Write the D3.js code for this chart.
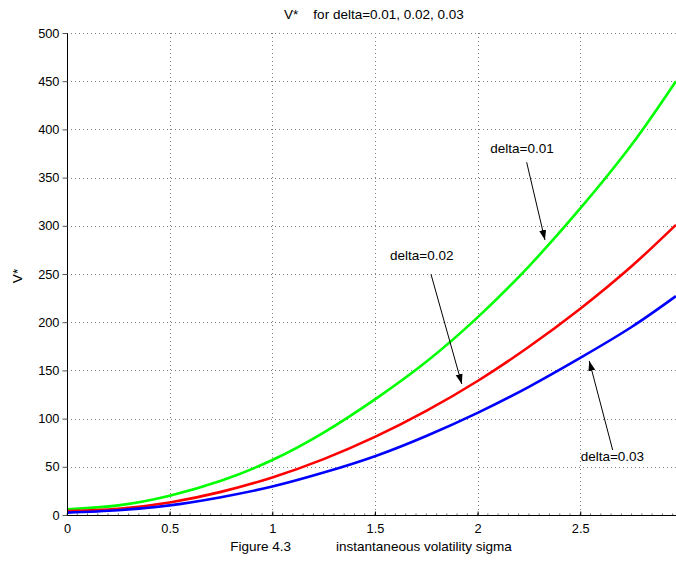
<!DOCTYPE html>
<html>
<head>
<meta charset="utf-8">
<script src="https://cdn.jsdelivr.net/npm/d3@7"></script>
<style>
html,body{margin:0;padding:0;background:#fff;}
svg{display:block;font-family:"Liberation Sans",Arial,Helvetica,sans-serif;}
</style>
</head>
<body>
<svg id="chart" width="676" height="567"></svg>
<script>
// ---- data ----
const sigma   = [0, 0.25, 0.5, 0.75, 1, 1.25, 1.5, 1.75, 2, 2.25, 2.5, 2.75, 2.966];
const v001    = [6, 10, 20, 35.5, 57, 85.5, 120, 159, 205, 258, 318, 384, 450];
const v002    = [4, 6.5, 13, 24, 39, 58, 81, 108, 139, 174.5, 214, 258, 301];
const v003    = [2.5, 5, 10, 18.5, 29.5, 44, 61, 82, 106, 133, 163, 195, 227];
const seriesNames  = ["delta=0.01", "delta=0.02", "delta=0.03"];
const seriesColors = ["#00ff00", "#ff0000", "#0000ff"];
const xTicks = [0, 0.5, 1, 1.5, 2, 2.5];
const yTicks = [0, 50, 100, 150, 200, 250, 300, 350, 400, 450, 500];
// annotations: label anchor (sigma, V) and arrow start/tip in data units
const annLabel = ["delta=0.01", "delta=0.02", "delta=0.03"];
const annText  = [[2.216, 375.5], [1.728, 264.5], [2.502, 56]];
const annFrom  = [[2.239, 365.9], [1.773, 249.7], [2.658, 67.4]];
const annTo    = [[2.328, 285.3], [1.923, 135.9], [2.544, 159.8]];

const svg = d3.select("#chart");
const x = d3.scaleLinear().domain([0, 3]).range([67, 67 + 3 * 205.3]);
const y = d3.scaleLinear().domain([0, 500]).range([515, 33]);
const xMax = 2.966;
const FS = 13.5;

// grid
const grid = svg.append("g").attr("stroke", "#7f7f7f").attr("stroke-width", 1)
  .attr("stroke-dasharray", "1,3");
grid.selectAll(".vg").data(xTicks.filter(d => d > 0)).join("line")
  .attr("x1", d => Math.round(x(d)) + 0.5).attr("x2", d => Math.round(x(d)) + 0.5)
  .attr("y1", y(500)).attr("y2", y(0));
grid.selectAll(".hg").data(yTicks.filter(d => d > 0)).join("line")
  .attr("y1", d => Math.round(y(d)) + 0.5).attr("y2", d => Math.round(y(d)) + 0.5)
  .attr("x1", x(0)).attr("x2", x(xMax));

// curves
const line = d3.line().x((d, i) => x(sigma[i])).y(d => y(d)).curve(d3.curveNatural);
[v001, v002, v003].forEach((vals, k) => {
  svg.append("path").datum(vals).attr("d", line)
    .attr("fill", "none").attr("stroke", seriesColors[k]).attr("stroke-width", 2.6);
});

// axes
const xAxis = d3.axisBottom(x).tickValues(xTicks).tickSize(-4).tickPadding(8)
  .tickFormat(d => d3.format("~g")(d));
const gx = svg.append("g").attr("transform", `translate(0,${Math.round(y(0)) + 0.5})`).call(xAxis);
gx.select(".domain").remove();
gx.append("line").attr("x1", x(0)).attr("x2", 676).attr("stroke", "#000");
// minor ticks
const minor = d3.range(0, 2.97, 0.05);
gx.selectAll(".mn").data(minor).join("line")
  .attr("x1", d => x(d)).attr("x2", d => x(d)).attr("y1", 0).attr("y2", -2)
  .attr("stroke", "#000").attr("stroke-width", 0.6);

const yAxis = d3.axisLeft(y).tickValues(yTicks).tickSize(5).tickPadding(3);
const gy = svg.append("g").attr("transform", `translate(${Math.round(x(0)) + 0.5},0)`).call(yAxis);
gy.select(".domain").attr("d", `M0,${y(500)}V${y(0)}`);

[gx, gy].forEach(g => {
  g.selectAll("text").attr("font-size", 12.8).attr("fill", "#000")
    .attr("font-family", '"Liberation Sans",Arial,sans-serif');
  g.selectAll("line").attr("stroke", "#000");
});
gy.selectAll(".tick line").attr("stroke", "#555");

// titles
svg.append("text").attr("x", 374).attr("y", 19).attr("text-anchor", "middle")
  .attr("font-size", FS).style("white-space", "pre").text("V*    for delta=0.01, 0.02, 0.03");
svg.append("text").attr("x", 371).attr("y", 551).attr("text-anchor", "middle")
  .attr("font-size", FS).style("white-space", "pre")
  .text("Figure 4.3            instantaneous volatility sigma");
svg.append("text").attr("transform", "translate(22,276) rotate(-90)")
  .attr("text-anchor", "middle").attr("font-size", FS).text("V*");

// annotations
const defs = svg.append("defs");
defs.append("marker").attr("id", "arr").attr("viewBox", "0 0 10 10")
  .attr("refX", 10).attr("refY", 5).attr("markerWidth", 10).attr("markerHeight", 10)
  .attr("markerUnits", "userSpaceOnUse").attr("orient", "auto")
  .append("path").attr("d", "M0,1.5L10,5L0,8.5Z").attr("fill", "#000");

annLabel.forEach((t, i) => {
  svg.append("text").attr("x", x(annText[i][0])).attr("y", y(annText[i][1]))
    .attr("text-anchor", i === 2 ? "start" : "middle").attr("font-size", FS).text(t);
  svg.append("line")
    .attr("x1", x(annFrom[i][0])).attr("y1", y(annFrom[i][1]))
    .attr("x2", x(annTo[i][0])).attr("y2", y(annTo[i][1]))
    .attr("stroke", "#000").attr("stroke-width", 1).attr("marker-end", "url(#arr)");
});
</script>
</body>
</html>
